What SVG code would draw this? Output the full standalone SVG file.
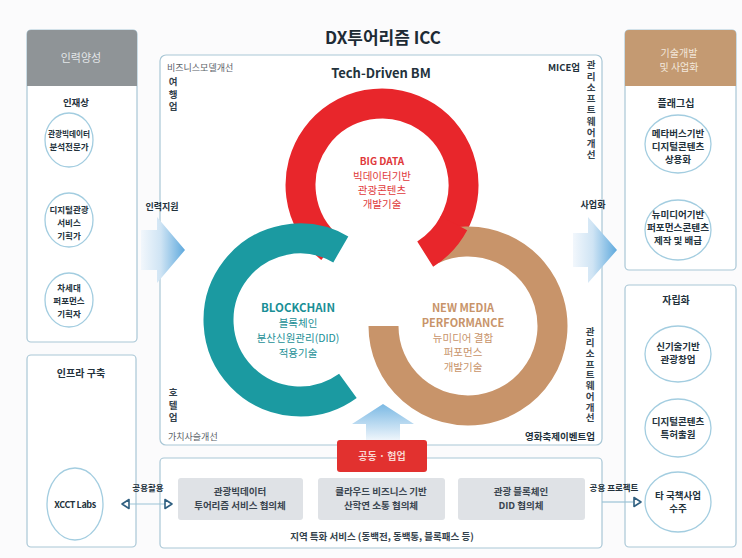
<svg xmlns="http://www.w3.org/2000/svg" width="742" height="558" viewBox="0 0 742 558">
<defs>
<style>
text{font-family:'Noto Sans CJK KR','Noto Sans',sans-serif;fill:#23323c;}
.b{font-weight:700;}
.panel{fill:#fff;stroke:#a9c7d6;stroke-width:1.2;}
.circ{fill:#fff;stroke:#a3cde0;stroke-width:1.3;}
.ct{font-size:8.5px;font-weight:700;text-anchor:middle;}
.rt{font-size:9.5px;font-weight:700;text-anchor:middle;}
.sm{font-size:9px;fill:#5a6268;}
.vt{font-size:9.5px;font-weight:700;fill:#34424c;writing-mode:vertical-rl;}
.box{fill:#dfe2e6;}
.bt{font-size:9.5px;font-weight:700;text-anchor:middle;fill:#3a4550;}
.ring{fill:none;stroke-width:30;stroke-linecap:butt;}
.tri{fill:#fff;stroke:#2f5f80;stroke-width:1.6;stroke-linejoin:round;}
.conn{stroke:#9cc3d5;stroke-width:1.2;fill:none;}
</style>
<linearGradient id="gh" x1="0" y1="0" x2="1" y2="0">
<stop offset="0" stop-color="#f2f7fc"/>
<stop offset="0.45" stop-color="#cfe4f4"/>
<stop offset="1" stop-color="#5ea9dd"/>
</linearGradient>
<linearGradient id="gv" x1="0" y1="1" x2="0" y2="0">
<stop offset="0" stop-color="#eef5fb"/>
<stop offset="1" stop-color="#7bb9e4"/>
</linearGradient>
</defs>
<rect width="742" height="558" fill="#fbfbfc"/>

<text x="383" y="44" class="b" font-size="17" text-anchor="middle" style="fill:#1e2b35">DX투어리즘 ICC</text>

<!-- Left top panel -->
<g id="left-hr">
<rect x="27" y="30" width="110" height="312" rx="4" class="panel"/>
<path d="M27,86 V34 Q27,30 31,30 H133 Q137,30 137,34 V86 Z" fill="#8f9497"/>
<text x="81" y="62" font-size="11" text-anchor="middle" style="fill:#e3e6e8">인력양성</text>
<text x="76" y="106" font-size="9.5" class="b" text-anchor="middle">인재상</text>
</g>
<g id="node-bigdata-expert">
<ellipse cx="69" cy="140" rx="24" ry="27" class="circ"/>
<text x="69" y="137" class="ct" textLength="42" lengthAdjust="spacingAndGlyphs">관광빅데이터</text>
<text x="69" y="150" class="ct">분석전문가</text>
</g>
<g id="node-digital-planner">
<ellipse cx="69" cy="220" rx="24" ry="27" class="circ"/>
<text x="69" y="213" class="ct">디지털관광</text>
<text x="69" y="226" class="ct">서비스</text>
<text x="69" y="239" class="ct">기획가</text>
</g>
<g id="node-performance-planner">
<ellipse cx="69" cy="300" rx="24" ry="27" class="circ"/>
<text x="69" y="291" class="ct">차세대</text>
<text x="69" y="304" class="ct">퍼포먼스</text>
<text x="69" y="317" class="ct">기획자</text>
</g>

<!-- Left bottom panel -->
<g id="left-infra">
<rect x="27" y="355" width="109" height="192" rx="4" class="panel"/>
<text x="81" y="377" font-size="10" class="b" text-anchor="middle">인프라 구축</text>
</g>
<g id="node-xcct">
<ellipse cx="75" cy="504" rx="28" ry="36" class="circ"/>
<text x="75" y="508" font-size="9" class="b" text-anchor="middle" letter-spacing="-0.4">XCCT Labs</text>
</g>

<!-- Right top panel -->
<g id="right-biz">
<rect x="625" y="30" width="111" height="240" rx="4" class="panel"/>
<path d="M625,86 V34 Q625,30 629,30 H732 Q736,30 736,34 V86 Z" fill="#c49a72"/>
<text x="679" y="57" font-size="10" text-anchor="middle" style="fill:#f3e8dc">기술개발</text>
<text x="679" y="71" font-size="10" text-anchor="middle" style="fill:#f3e8dc">및 사업화</text>
<text x="676" y="107" font-size="10" class="b" text-anchor="middle">플래그십</text>
</g>
<g id="node-metaverse">
<ellipse cx="678" cy="144" rx="33" ry="29" class="circ"/>
<text x="678" y="137" class="rt">메타버스기반</text>
<text x="678" y="150" class="rt">디지털콘텐츠</text>
<text x="678" y="163" class="rt">상용화</text>
</g>
<g id="node-newmedia-content">
<ellipse cx="678" cy="230" rx="33" ry="30" class="circ"/>
<text x="678" y="218" class="rt">뉴미디어기반</text>
<text x="678" y="231" class="rt" textLength="62" lengthAdjust="spacingAndGlyphs">퍼포먼스콘텐츠</text>
<text x="678" y="244" class="rt">제작 및 배급</text>
</g>

<!-- Right bottom panel -->
<g id="right-indep">
<rect x="625" y="285" width="111" height="262" rx="4" class="panel"/>
<text x="676" y="304" font-size="10" class="b" text-anchor="middle">자립화</text>
</g>
<g id="node-startup">
<ellipse cx="678" cy="354" rx="33" ry="28" class="circ"/>
<text x="678" y="350" class="rt">신기술기반</text>
<text x="678" y="363" class="rt">관광창업</text>
</g>
<g id="node-patent">
<ellipse cx="678" cy="428" rx="33" ry="29" class="circ"/>
<text x="678" y="425" class="rt">디지털콘텐츠</text>
<text x="678" y="438" class="rt">특허출원</text>
</g>
<g id="node-project">
<ellipse cx="678" cy="502" rx="33" ry="30" class="circ"/>
<text x="678" y="499" class="rt">타 국책사업</text>
<text x="678" y="512" class="rt">수주</text>
</g>

<!-- Center panel -->
<g id="center-bm">
<rect x="160" y="55" width="442" height="390" rx="6" class="panel"/>
<text x="167" y="71" class="sm">비즈니스모델개선</text>
<text x="381" y="78" font-size="13" class="b" text-anchor="middle">Tech-Driven BM</text>
<text x="173" y="77" class="vt" font-size="10" letter-spacing="3">여행업</text>
<text x="580" y="71" font-size="9.5" class="b" text-anchor="end">MICE업</text>
<text x="591" y="60" class="vt" letter-spacing="1.75">관리소프트웨어개선</text>
<text x="173" y="388" class="vt" font-size="10" letter-spacing="3">호텔업</text>
<text x="168" y="440" class="sm">가치사슬개선</text>
<text x="595" y="440" font-size="9.5" class="b" text-anchor="end">영화축제이벤트업</text>
<text x="590" y="327" class="vt" letter-spacing="1.25">관리소프트웨어개선</text>
</g>

<!-- Rings -->
<g id="ring-bigdata">
<path d="M330.7,248.3 A81.5,81.5 0 1 1 452.6,225.75" class="ring" stroke="#e8262b"/>
<text x="382" y="165" font-size="10" class="b" text-anchor="middle" style="fill:#e0383b">BIG DATA</text>
<text x="382" y="180" font-size="10.5" text-anchor="middle" style="fill:#e0383b">빅데이터기반</text>
<text x="382" y="194" font-size="10.5" text-anchor="middle" style="fill:#e0383b">관광콘텐츠</text>
<text x="382" y="208" font-size="10.5" text-anchor="middle" style="fill:#e0383b">개발기술</text>
</g>
<g id="ring-blockchain">
<path d="M340.8,249.4 A81.5,81.5 0 1 0 347.9,385.9" class="ring" stroke="#1b9aa1"/>
<text x="298" y="312" font-size="11.5" class="b" text-anchor="middle" style="fill:#1a8f96">BLOCKCHAIN</text>
<text x="298" y="327" font-size="10.5" text-anchor="middle" style="fill:#1a8f96">블록체인</text>
<text x="298" y="342" font-size="10.5" text-anchor="middle" style="fill:#1a8f96">분산신원관리(DID)</text>
<text x="298" y="357" font-size="10.5" text-anchor="middle" style="fill:#1a8f96">적용기술</text>
</g>
<g id="ring-newmedia">
<path d="M432.3,249.4 A84.5,84.5 0 1 1 383.5,326" class="ring" stroke="#c8946a" stroke-width="29"/>
<text x="463" y="312" font-size="11" class="b" text-anchor="middle" style="fill:#c8946a">NEW MEDIA</text>
<text x="463" y="327" font-size="11" class="b" text-anchor="middle" style="fill:#c8946a">PERFORMANCE</text>
<text x="463" y="342" font-size="10.5" text-anchor="middle" style="fill:#c8946a">뉴미디어 결합</text>
<text x="463" y="356" font-size="10.5" text-anchor="middle" style="fill:#c8946a">퍼포먼스</text>
<text x="463" y="371" font-size="10.5" text-anchor="middle" style="fill:#c8946a">개발기술</text>
</g>
<path d="M453.96,223.26 A81.5,81.5 0 0 1 425.2,254.1" class="ring" stroke="#e8262b"/>

<!-- Bottom panel -->
<g id="bottom-collab">
<rect x="160" y="458" width="442" height="90" rx="4" class="panel"/>
<text x="382" y="540" font-size="9.5" class="b" text-anchor="middle" style="fill:#34424c">지역 특화 서비스 (동백전, 동백통, 블록패스 등)</text>
</g>
<g id="node-c1">
<rect x="178" y="478" width="125" height="42" rx="3" class="box"/>
<text x="240" y="495" class="bt">관광빅데이터</text>
<text x="240" y="509" class="bt">투어리즘 서비스 협의체</text>
</g>
<g id="node-c2">
<rect x="318" y="478" width="127" height="42" rx="3" class="box"/>
<text x="381" y="495" class="bt">클라우드 비즈니스 기반</text>
<text x="381" y="509" class="bt">산학연 소통 협의체</text>
</g>
<g id="node-c3">
<rect x="458" y="478" width="127" height="42" rx="3" class="box"/>
<text x="521" y="495" class="bt">관광 블록체인</text>
<text x="521" y="509" class="bt">DID 협의체</text>
</g>

<!-- Connectors -->
<g id="connectors">
<path d="M141,230 H157 V217 L185,250 L157,283 V270 H141 Z" fill="url(#gh)"/>
<text x="162" y="210" font-size="9" class="b" text-anchor="middle">인력지원</text>
<path d="M573,233 H588 V217 L617,250 L588,283 V267 H573 Z" fill="url(#gh)"/>
<text x="593" y="208" font-size="9" class="b" text-anchor="middle">사업화</text>
<path d="M383,404 L414,424 H400 V440 H366 V424 H352 Z" fill="url(#gv)"/>
<rect x="337" y="440" width="90" height="32" rx="3" fill="#e2312f"/>
<text x="382" y="460" font-size="10" class="b" text-anchor="middle" style="fill:#f8d6d2">공동 · 협업</text>
<line x1="130" y1="504" x2="165" y2="504" class="conn"/>
<polygon points="122,504 129,499.5 129,508.5" class="tri"/>
<polygon points="172,504 165,499.5 165,508.5" class="tri"/>
<text x="148" y="491" font-size="8.5" class="b" text-anchor="middle">공용활용</text>
<line x1="602" y1="502" x2="633" y2="502" class="conn"/>
<polygon points="641,502 634,497.5 634,506.5" class="tri"/>
<text x="614" y="491" font-size="8.5" class="b" text-anchor="middle">공용 프로젝트</text>
</g>
</svg>
